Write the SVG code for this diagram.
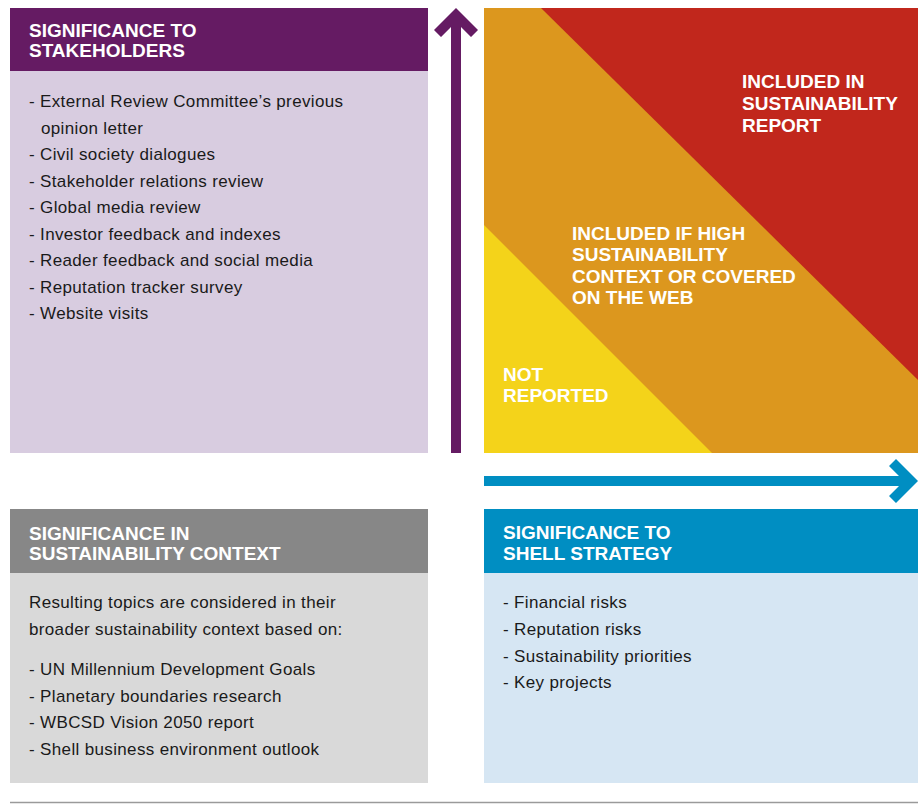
<svg xmlns="http://www.w3.org/2000/svg" width="924" height="804" viewBox="0 0 924 804">
<style>
.hd{font-family:"Liberation Sans",Arial,sans-serif;font-weight:bold;font-size:19px;fill:#ffffff}
.tx{font-family:"Liberation Sans",Arial,sans-serif;font-size:17px;letter-spacing:0.35px;fill:#1a1a1a}
</style>
<rect x="0" y="0" width="924" height="804" fill="#ffffff"/>
<g id="stakeholders">
<rect x="10" y="8" width="418" height="63" fill="#651B63"/>
<rect x="10" y="71" width="418" height="382" fill="#D8CCE0"/>
<text class="hd" x="29" y="37">SIGNIFICANCE TO</text>
<text class="hd" x="29" y="57">STAKEHOLDERS</text>
<text class="tx" x="29" y="107">- External Review Committee’s previous</text>
<text class="tx" x="41" y="133.5">opinion letter</text>
<text class="tx" x="29" y="160">- Civil society dialogues</text>
<text class="tx" x="29" y="186.5">- Stakeholder relations review</text>
<text class="tx" x="29" y="213">- Global media review</text>
<text class="tx" x="29" y="239.5">- Investor feedback and indexes</text>
<text class="tx" x="29" y="266">- Reader feedback and social media</text>
<text class="tx" x="29" y="292.5">- Reputation tracker survey</text>
<text class="tx" x="29" y="319">- Website visits</text>
</g>
<g id="matrix">
<rect x="484" y="8" width="434" height="445" fill="#DC971E"/>
<polygon points="541,8 918,8 918,380" fill="#C1271C"/>
<polygon points="484,225 712,453 484,453" fill="#F4D31A"/>
<text class="hd" x="742" y="88">INCLUDED IN</text>
<text class="hd" x="742" y="110">SUSTAINABILITY</text>
<text class="hd" x="742" y="132">REPORT</text>
<text class="hd" x="572" y="240">INCLUDED IF HIGH</text>
<text class="hd" x="572" y="261">SUSTAINABILITY</text>
<text class="hd" x="572" y="283">CONTEXT OR COVERED</text>
<text class="hd" x="572" y="304">ON THE WEB</text>
<text class="hd" x="503" y="381">NOT</text>
<text class="hd" x="503" y="402">REPORTED</text>
</g>
<g id="connectors">
<polygon id="axis-stakeholders" points="451,453 451,27 441,37 434,30 456,8 478,30 471,37 461,27 461,453" fill="#651B63"/>
<polygon id="axis-strategy" points="484,476 899,476 889,466 896,459 918,481 896,503 889,496 899,486 484,486" fill="#008EC2"/>
</g>
<g id="context">
<rect x="10" y="509" width="418" height="64" fill="#878787"/>
<rect x="10" y="573" width="418" height="210" fill="#D9D9D9"/>
<text class="hd" x="29" y="540">SIGNIFICANCE IN</text>
<text class="hd" x="29" y="560">SUSTAINABILITY CONTEXT</text>
<text class="tx" x="29" y="608">Resulting topics are considered in their</text>
<text class="tx" x="29" y="635">broader sustainability context based on:</text>
<text class="tx" x="29" y="675">- UN Millennium Development Goals</text>
<text class="tx" x="29" y="701.5">- Planetary boundaries research</text>
<text class="tx" x="29" y="728">- WBCSD Vision 2050 report</text>
<text class="tx" x="29" y="754.5">- Shell business environment outlook</text>
</g>
<g id="strategy">
<rect x="484" y="509" width="434" height="64" fill="#008EC2"/>
<rect x="484" y="573" width="434" height="210" fill="#D6E6F3"/>
<text class="hd" x="503" y="539">SIGNIFICANCE TO</text>
<text class="hd" x="503" y="560">SHELL STRATEGY</text>
<text class="tx" x="503" y="608">- Financial risks</text>
<text class="tx" x="503" y="635">- Reputation risks</text>
<text class="tx" x="503" y="661.5">- Sustainability priorities</text>
<text class="tx" x="503" y="688">- Key projects</text>
</g>
<line x1="10" y1="802.5" x2="918" y2="802.5" stroke="#9a9a9a" stroke-width="1.5"/>
</svg>
